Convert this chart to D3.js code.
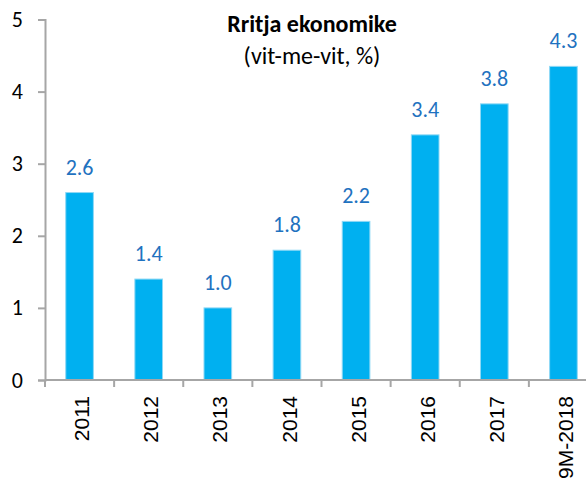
<html>
<head>
    <script src="https://d3js.org/d3.v7.min.js"></script>
    <style>
        body { margin: 0; background: #fff; }
        .calibri { font-family: Calibri, Carlito, Lato, sans-serif; }
    </style>
</head>
<body>
<svg id="chart" width="586" height="480"></svg>
<script>
    // data
    const years = ["2011", "2012", "2013", "2014", "2015", "2016", "2017", "9M-2018"];
    const growth = [2.6, 1.4, 1.0, 1.8, 2.2, 3.4, 3.83, 4.35];
    const valueLabels = ["2.6", "1.4", "1.0", "1.8", "2.2", "3.4", "3.8", "4.3"];
    const yTicks = [0, 1, 2, 3, 4, 5];

    let svg = d3.select("svg#chart");

    const axisColor = "#a6a6a6";
    const barColor = "#00b0f0";
    const labelColor = "#1f72c0";

    const xScale = d3.scaleBand().domain(years).range([45, 598])
        .paddingInner(0.6).paddingOuter(0.3);
    const yScale = d3.scaleLinear().domain([0, 5]).range([380, 19.5]);

    // bars
    svg.selectAll("rect.bar").data(years)
        .join("rect")
        .attr("class", "bar")
        .attr("x", d => xScale(d))
        .attr("width", xScale.bandwidth())
        .attr("y", (d, i) => yScale(growth[i]))
        .attr("height", (d, i) => yScale(0) - yScale(growth[i]))
        .attr("fill", barColor)
        .attr("stroke", "#8fd8f5")
        .attr("stroke-width", 1);

    // value labels above bars
    svg.selectAll("text.val").data(years)
        .join("text")
        .attr("class", "val calibri")
        .attr("x", d => xScale(d) + xScale.bandwidth() / 2)
        .attr("y", (d, i) => yScale(growth[i]) - 18)
        .attr("text-anchor", "middle")
        .style("font-size", "22px")
        .style("fill", labelColor)
        .text((d, i) => valueLabels[i]);

    // y axis
    let leftAxis = d3.axisLeft(yScale).tickValues(yTicks).tickSize(7).tickPadding(15)
        .tickFormat(d3.format("d"));
    let yAxis = svg.append("g")
        .attr("transform", "translate(45,0)")
        .call(leftAxis);
    yAxis.select(".domain").attr("stroke", axisColor).attr("stroke-width", 2);
    yAxis.selectAll(".tick line").attr("stroke", axisColor).attr("stroke-width", 2);
    yAxis.selectAll(".tick text")
        .attr("class", "calibri")
        .style("font-size", "22px")
        .style("fill", "#000");

    // x axis line and ticks at the category boundaries
    let xAxis = svg.append("g");
    xAxis.append("line")
        .attr("x1", 45).attr("x2", 598)
        .attr("y1", yScale(0)).attr("y2", yScale(0))
        .attr("stroke", axisColor).attr("stroke-width", 2);
    const step = xScale.step();
    const bounds = years.map(d => xScale(d) - step * 0.3).concat([xScale(years[years.length - 1]) - step * 0.3 + step]);
    xAxis.selectAll("line.tk").data(bounds)
        .join("line")
        .attr("class", "tk")
        .attr("x1", d => d).attr("x2", d => d)
        .attr("y1", yScale(0)).attr("y2", yScale(0) + 7)
        .attr("stroke", axisColor).attr("stroke-width", 2);

    xAxis.selectAll("text.yr").data(years)
        .join("text")
        .attr("class", "yr")
        .attr("transform", d => `translate(${xScale(d) + xScale.bandwidth() / 2 + 2},396) rotate(-90)`)
        .attr("text-anchor", "end")
        .attr("dy", "0.36em")
        .style("font-family", "'Liberation Sans', Arial, sans-serif")
        .style("font-size", "21px")
        .style("fill", "#000")
        .text(d => d);

    // title
    svg.append("text")
        .attr("class", "calibri")
        .attr("x", 312).attr("y", 32)
        .attr("text-anchor", "middle")
        .style("font-size", "24px")
        .style("font-weight", "bold")
        .text("Rritja ekonomike");

    svg.append("text")
        .attr("class", "calibri")
        .attr("x", 312).attr("y", 64)
        .attr("text-anchor", "middle")
        .style("font-size", "24px")
        .text("(vit-me-vit, %)");
</script>
</body>
</html>
